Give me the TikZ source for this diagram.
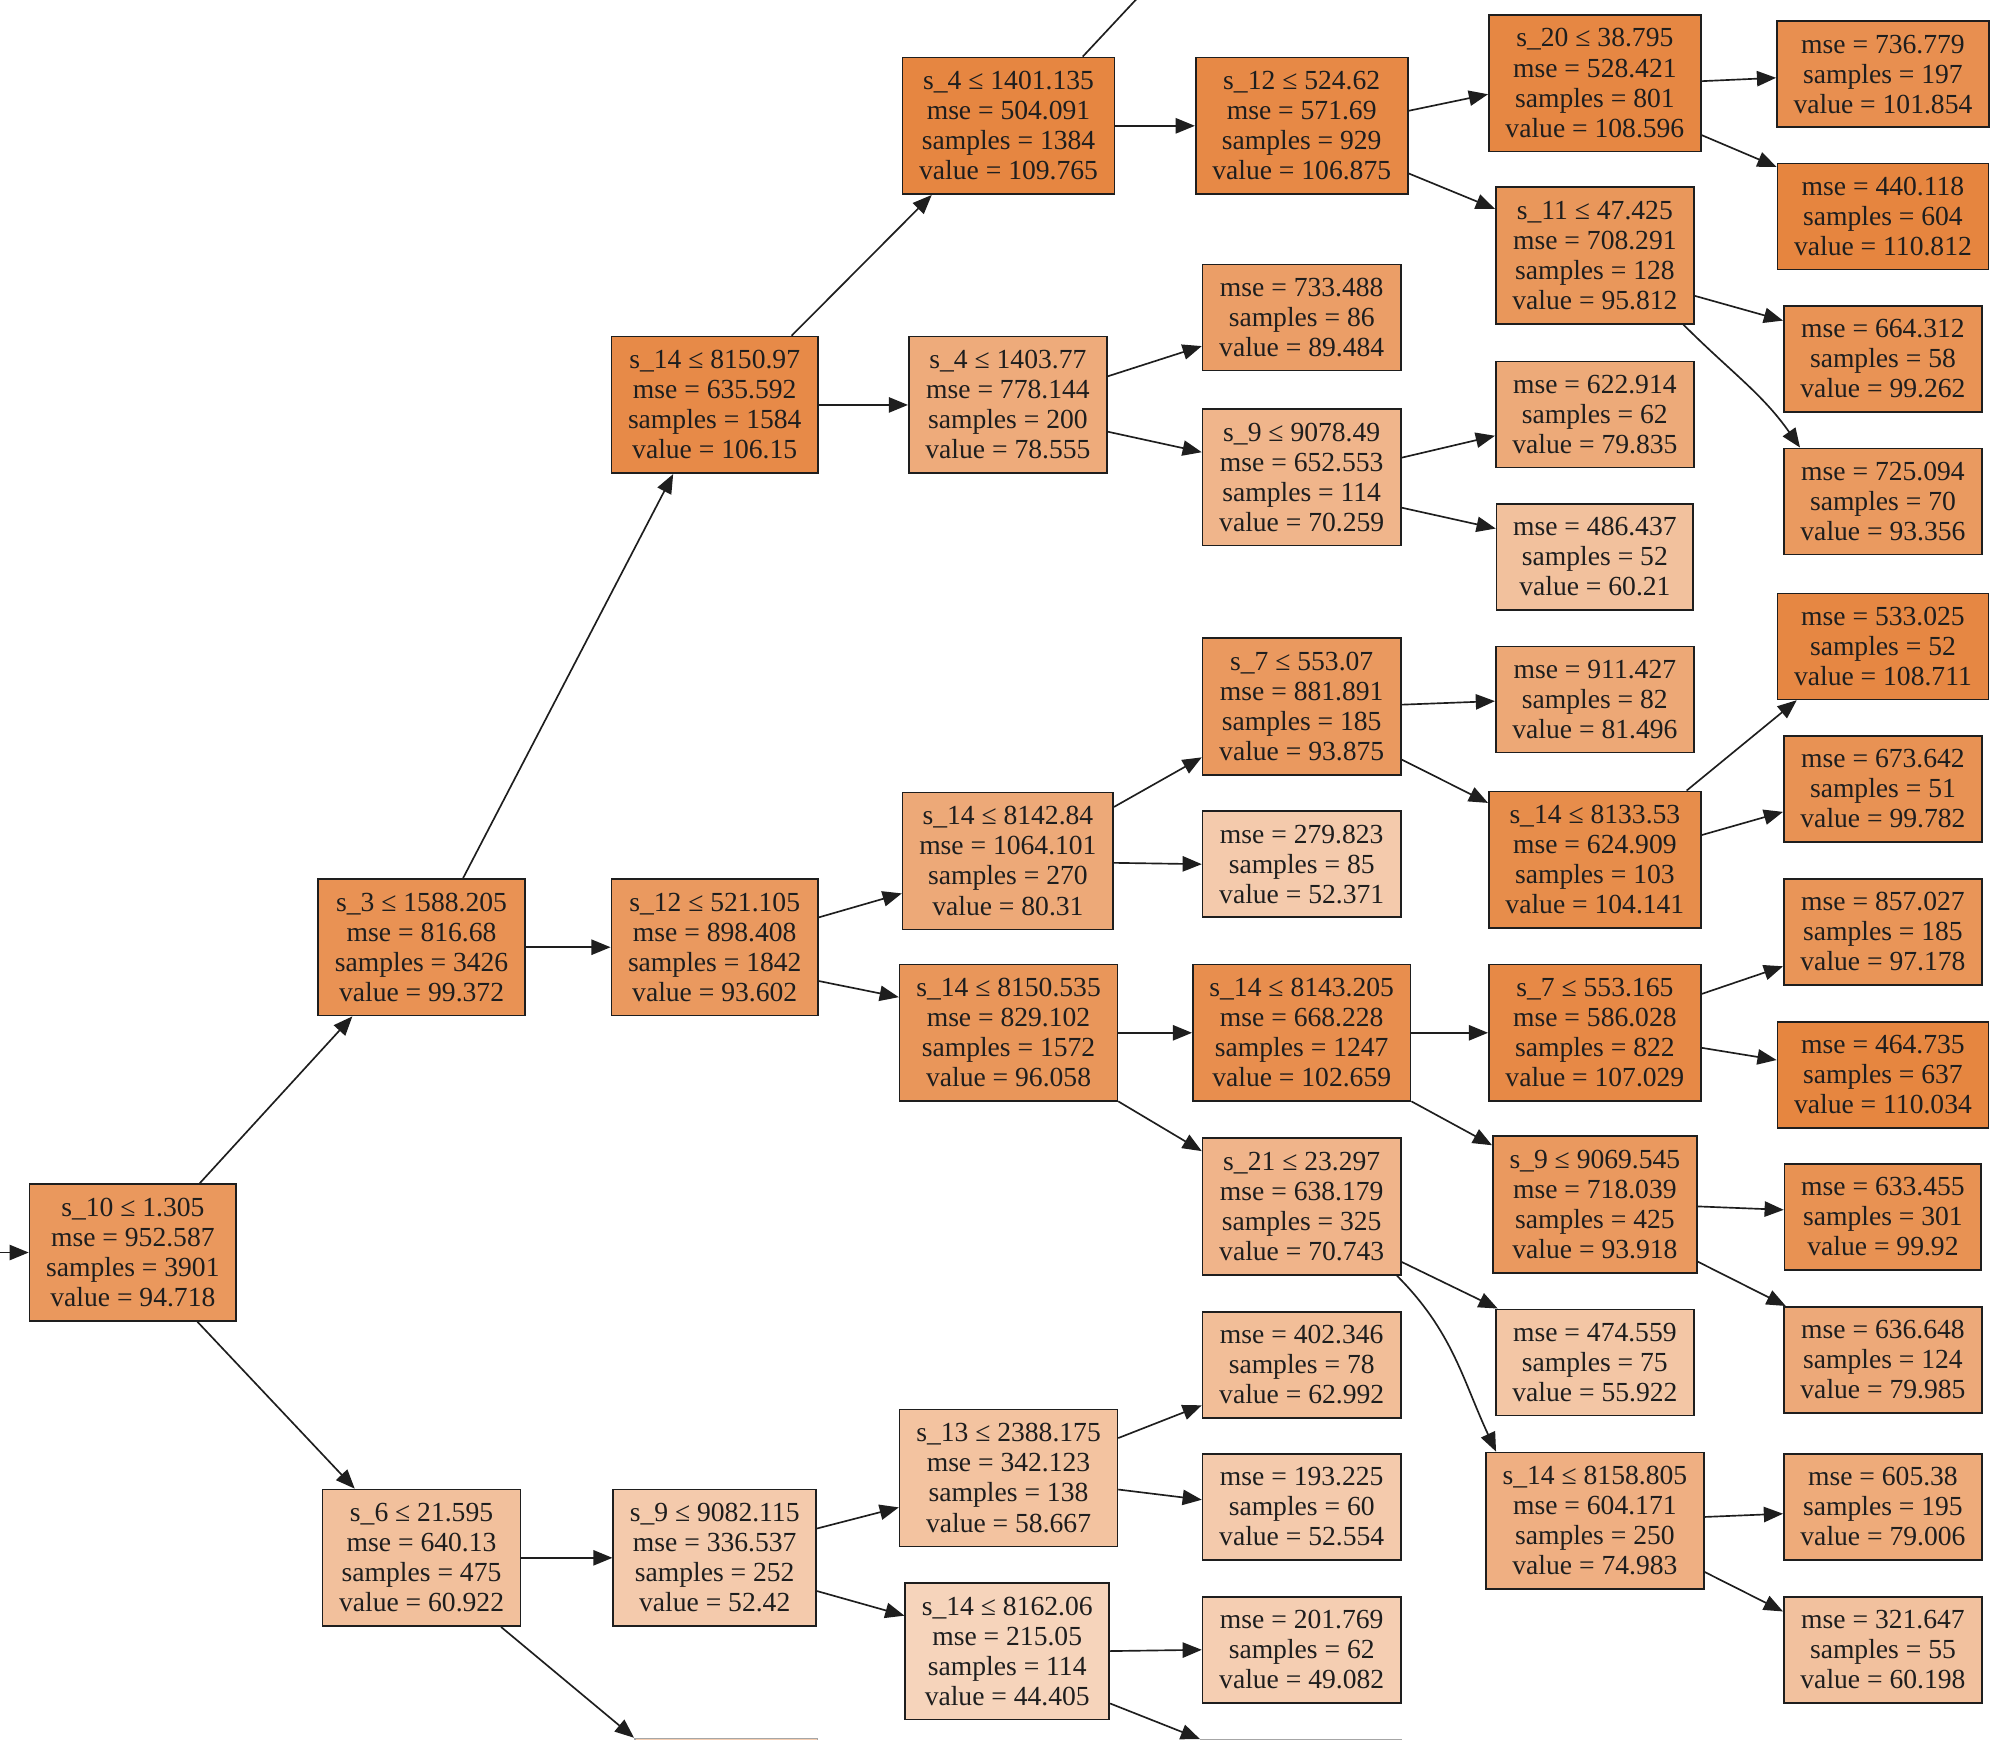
\documentclass[tikz,border=0pt]{standalone}
\usepackage{fontspec}
\setmainfont{Liberation Serif}
\usetikzlibrary{arrows.meta}
\definecolor{dt}{RGB}{229,129,57}
\definecolor{ink}{RGB}{30,30,30}
\tikzset{
  tn/.style={rectangle, draw=ink, line width=1.3pt, inner xsep=13pt, inner ysep=0pt,
    align=center, text=ink, font={\fontsize{21.6pt}{23.5pt}\selectfont}},
  sp/.style={tn, minimum height=107pt},
  lf/.style={tn, minimum height=83pt},
  edg/.style={line width=1.3pt, draw=ink, -{Triangle[length=15pt,width=12pt]}},
  plain/.style={line width=1.3pt, draw=ink}
}
\begin{document}
\begin{tikzpicture}[x=1pt,y=-1pt]
\useasboundingbox (0,0) rectangle (1568,1362);
\fill[white] (0,0) rectangle (1568,1362);
\clip (0,0) rectangle (1568,1362);
% nodes
\node[sp, fill=dt!81.8] (n0) at (104,980.5) {s\_10 ≤ 1.305\\mse = 952.587\\samples = 3901\\value = 94.718};
\node[sp, fill=dt!86.2] (n1) at (330,741.5) {s\_3 ≤ 1588.205\\mse = 816.68\\samples = 3426\\value = 99.372};
\node[sp, fill=dt!92.6] (n2) at (559.5,317) {s\_14 ≤ 8150.97\\mse = 635.592\\samples = 1584\\value = 106.15};
\node[sp, fill=dt!96.0] (n3) at (789.5,98.5) {s\_4 ≤ 1401.135\\mse = 504.091\\samples = 1384\\value = 109.765};
\node[sp, fill=dt!93.3] (n4) at (1019,98.5) {s\_12 ≤ 524.62\\mse = 571.69\\samples = 929\\value = 106.875};
\node[sp, fill=dt!94.9] (n5) at (1248.5,65) {s\_20 ≤ 38.795\\mse = 528.421\\samples = 801\\value = 108.596};
\node[lf, fill=dt!88.5] (n6) at (1474,58) {mse = 736.779\\samples = 197\\value = 101.854};
\node[lf, fill=dt!97.0] (n7) at (1474,169.5) {mse = 440.118\\samples = 604\\value = 110.812};
\node[sp, fill=dt!82.8] (n8) at (1248.5,200) {s\_11 ≤ 47.425\\mse = 708.291\\samples = 128\\value = 95.812};
\node[lf, fill=dt!86.1] (n9) at (1474,281) {mse = 664.312\\samples = 58\\value = 99.262};
\node[lf, fill=dt!80.5] (n10) at (1474,392.5) {mse = 725.094\\samples = 70\\value = 93.356};
\node[sp, fill=dt!66.6] (n11) at (789,317) {s\_4 ≤ 1403.77\\mse = 778.144\\samples = 200\\value = 78.555};
\node[lf, fill=dt!76.9] (n12) at (1019,248.5) {mse = 733.488\\samples = 86\\value = 89.484};
\node[sp, fill=dt!58.7] (n13) at (1019,373.5) {s\_9 ≤ 9078.49\\mse = 652.553\\samples = 114\\value = 70.259};
\node[lf, fill=dt!67.8] (n14) at (1248.5,324.5) {mse = 622.914\\samples = 62\\value = 79.835};
\node[lf, fill=dt!49.3] (n15) at (1248.5,436) {mse = 486.437\\samples = 52\\value = 60.21};
\node[sp, fill=dt!80.8] (n16) at (559.5,741.5) {s\_12 ≤ 521.105\\mse = 898.408\\samples = 1842\\value = 93.602};
\node[sp, fill=dt!68.2] (n17) at (789,674) {s\_14 ≤ 8142.84\\mse = 1064.101\\samples = 270\\value = 80.31};
\node[sp, fill=dt!81.0] (n18) at (1019,553) {s\_7 ≤ 553.07\\mse = 881.891\\samples = 185\\value = 93.875};
\node[lf, fill=dt!69.3] (n19) at (1248.5,547.5) {mse = 911.427\\samples = 82\\value = 81.496};
\node[sp, fill=dt!90.7] (n20) at (1248.5,673) {s\_14 ≤ 8133.53\\mse = 624.909\\samples = 103\\value = 104.141};
\node[lf, fill=dt!95.0] (n21) at (1474,506) {mse = 533.025\\samples = 52\\value = 108.711};
\node[lf, fill=dt!86.6] (n22) at (1474,617.5) {mse = 673.642\\samples = 51\\value = 99.782};
\node[lf, fill=dt!41.9] (n23) at (1019,676.5) {mse = 279.823\\samples = 85\\value = 52.371};
\node[sp, fill=dt!83.1] (n24) at (789.5,808.5) {s\_14 ≤ 8150.535\\mse = 829.102\\samples = 1572\\value = 96.058};
\node[sp, fill=dt!89.3] (n25) at (1019,808.5) {s\_14 ≤ 8143.205\\mse = 668.228\\samples = 1247\\value = 102.659};
\node[sp, fill=dt!93.4] (n26) at (1248.5,808.5) {s\_7 ≤ 553.165\\mse = 586.028\\samples = 822\\value = 107.029};
\node[lf, fill=dt!84.1] (n27) at (1474,729.5) {mse = 857.027\\samples = 185\\value = 97.178};
\node[lf, fill=dt!96.3] (n28) at (1474,841.5) {mse = 464.735\\samples = 637\\value = 110.034};
\node[sp, fill=dt!81.0] (n29) at (1248.5,943) {s\_9 ≤ 9069.545\\mse = 718.039\\samples = 425\\value = 93.918};
\node[lf, fill=dt!86.7] (n30) at (1474,952.5) {mse = 633.455\\samples = 301\\value = 99.92};
\node[lf, fill=dt!67.9] (n31) at (1474,1064.5) {mse = 636.648\\samples = 124\\value = 79.985};
\node[sp, fill=dt!59.2] (n32) at (1019,944.5) {s\_21 ≤ 23.297\\mse = 638.179\\samples = 325\\value = 70.743};
\node[lf, fill=dt!45.2] (n33) at (1248.5,1066.5) {mse = 474.559\\samples = 75\\value = 55.922};
\node[sp, fill=dt!63.2] (n34) at (1248.5,1190.5) {s\_14 ≤ 8158.805\\mse = 604.171\\samples = 250\\value = 74.983};
\node[lf, fill=dt!67.0] (n35) at (1474,1179.5) {mse = 605.38\\samples = 195\\value = 79.006};
\node[lf, fill=dt!49.2] (n36) at (1474,1291.5) {mse = 321.647\\samples = 55\\value = 60.198};
\node[sp, fill=dt!49.9] (n37) at (330,1219.5) {s\_6 ≤ 21.595\\mse = 640.13\\samples = 475\\value = 60.922};
\node[sp, fill=dt!41.9] (n38) at (559.5,1219.5) {s\_9 ≤ 9082.115\\mse = 336.537\\samples = 252\\value = 52.42};
\node[sp, fill=dt!47.8] (n39) at (789.5,1157) {s\_13 ≤ 2388.175\\mse = 342.123\\samples = 138\\value = 58.667};
\node[lf, fill=dt!51.9] (n40) at (1019,1068.5) {mse = 402.346\\samples = 78\\value = 62.992};
\node[lf, fill=dt!42.0] (n41) at (1019,1179.5) {mse = 193.225\\samples = 60\\value = 52.554};
\node[sp, fill=dt!34.3] (n42) at (788.5,1292.5) {s\_14 ≤ 8162.06\\mse = 215.05\\samples = 114\\value = 44.405};
\node[lf, fill=dt!38.8] (n43) at (1019,1291.5) {mse = 201.769\\samples = 62\\value = 49.082};
% partly visible nodes at the bottom edge
\node[tn, draw=black!35, fill=dt!40, minimum width=143pt, minimum height=107pt] (nA) at (568.5,1414.5) {};
\node[tn, draw=black!35, fill=dt!40, minimum width=157pt, minimum height=107pt] (nB) at (1018.5,1415.5) {};
\coordinate (rootin) at (-40,980.5);
\coordinate (topout) at (931,-45);
% edges
\draw[edg] (rootin) -- (n0.west);
\draw[edg] (n0.46.4) -- (n1.225.8);
\draw[edg] (n0.313.6) -- (n37.134.2);
\draw[edg] (n1.59.9) -- (n2.239.3);
\draw[edg] (n1.east) -- (n16.west);
\draw[edg] (n2.42.7) -- (n3.222.4);
\draw[edg] (n2.east) -- (n11.west);
\draw[plain] (n3.43.9) -- (topout);
\draw[edg] (n3.east) -- (n4.west);
\draw[edg] (n4.8.6) -- (n5.186.9);
\draw[edg] (n4.336.8) -- (n8.155.7);
\draw[edg] (n5.1.4) -- (n6.182);
\draw[edg] (n5.334.7) -- (n7.155.1);
\draw[edg] (n8.338.8) -- (n9.159);
\draw[edg] (n8.322.7) to[out=-45,in=125] (n10.147.8);
\draw[edg] (n11.16.4) -- (n12.196.8);
\draw[edg] (n11.345.6) -- (n13.166);
\draw[edg] (n13.11.9) -- (n14.192);
\draw[edg] (n13.343.2) -- (n15.164.8);
\draw[edg] (n16.16.7) -- (n17.197.4);
\draw[edg] (n16.342.6) -- (n24.162.4);
\draw[edg] (n17.27.9) -- (n18.207.7);
\draw[edg] (n17.359) -- (n23.180);
\draw[edg] (n18.1.5) -- (n19.181);
\draw[edg] (n18.332.3) -- (n20.152.5);
\draw[edg] (n20.37.3) -- (n21.212.6);
\draw[edg] (n20.13.6) -- (n22.193.3);
\draw[edg] (n24.east) -- (n25.west);
\draw[edg] (n24.328.3) -- (n32.151.4);
\draw[edg] (n25.east) -- (n26.west);
\draw[edg] (n25.328.4) -- (n29.150.6);
\draw[edg] (n26.20.3) -- (n27.199.4);
\draw[edg] (n26.352.7) -- (n28.172.1);
\draw[edg] (n29.359.3) -- (n30.176.7);
\draw[edg] (n29.331.1) -- (n31.151.4);
\draw[edg] (n32.331.4) -- (n33.151.8);
\draw[edg] (n32.324.1) to[out=-45,in=115] (n34.145.4);
\draw[edg] (n34.2.3) -- (n35.184);
\draw[edg] (n34.335.5) -- (n36.159.3);
\draw[edg] (n37.east) -- (n38.west);
\draw[edg] (n37.319.7) -- (nA.north west);
\draw[edg] (n38.16.1) -- (n39.195.5);
\draw[edg] (n38.342) -- (n42.161.8);
\draw[edg] (n39.20.3) -- (n40.202);
\draw[edg] (n39.354.1) -- (n41.176);
\draw[edg] (n42.east) -- (n43.west);
\draw[edg] (n42.333.3) -- (nB.north west);
\end{tikzpicture}
\end{document}
